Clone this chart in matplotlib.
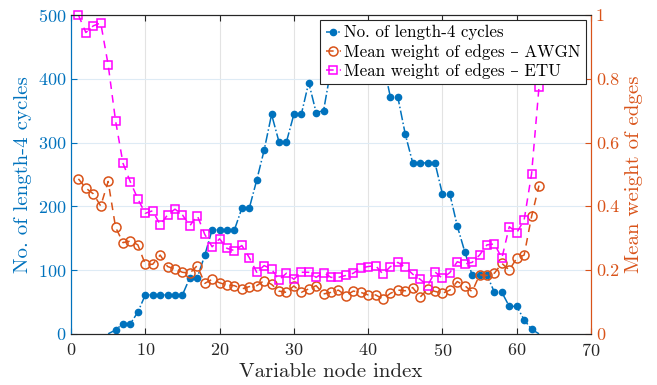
import matplotlib
matplotlib.use('Agg')
import matplotlib.pyplot as plt
import numpy as np

# data
x_blue = np.arange(5, 64)
cycles = [0, 6, 16, 16, 34, 61, 61, 61, 61, 61, 61, 88, 88, 123, 163, 163, 163, 163,
          197, 197, 241, 288, 344, 301, 301, 344, 344, 394, 347, 350, 416, 440, 460,
          470, 470, 455, 440, 426, 371, 371, 313, 268, 268, 268, 268, 219, 219, 169,
          129, 92, 92, 92, 65, 65, 43, 43, 22, 7, 0]

x_w = np.arange(1, 64)
w_awgn = [0.486, 0.457, 0.439, 0.401, 0.478, 0.334, 0.286, 0.291, 0.279, 0.218, 0.218,
          0.247, 0.211, 0.203, 0.193, 0.190, 0.214, 0.158, 0.171, 0.160, 0.153, 0.151,
          0.141, 0.148, 0.151, 0.167, 0.155, 0.134, 0.130, 0.150, 0.130, 0.141, 0.151,
          0.125, 0.130, 0.137, 0.120, 0.134, 0.130, 0.122, 0.122, 0.109, 0.127, 0.137,
          0.135, 0.145, 0.115, 0.140, 0.133, 0.127, 0.137, 0.164, 0.151, 0.132, 0.185,
          0.183, 0.190, 0.221, 0.200, 0.237, 0.247, 0.368, 0.465]
w_etu = [1.000, 0.945, 0.966, 0.975, 0.844, 0.668, 0.535, 0.476, 0.423, 0.378, 0.386,
         0.342, 0.373, 0.391, 0.373, 0.339, 0.371, 0.312, 0.273, 0.298, 0.268, 0.261,
         0.277, 0.239, 0.193, 0.214, 0.203, 0.169, 0.190, 0.171, 0.193, 0.193, 0.177,
         0.192, 0.177, 0.177, 0.183, 0.190, 0.206, 0.211, 0.214, 0.187, 0.211, 0.224,
         0.209, 0.187, 0.171, 0.151, 0.194, 0.174, 0.192, 0.226, 0.219, 0.224, 0.247,
         0.279, 0.282, 0.237, 0.336, 0.317, 0.357, 0.502, 0.774]

blue = '#0072BD'
orange = '#D95319'
magenta = '#FF00FF'
dark = '#262626'

plt.rcParams['font.family'] = ['cmr10', 'DejaVu Serif']
plt.rcParams['axes.formatter.use_mathtext'] = True
plt.rcParams['mathtext.fontset'] = 'cm'

fig = plt.figure(figsize=(6.57, 3.85), dpi=100)
ax = fig.add_axes([71/657, 1-333.8/385, 520/657, 318.8/385])
ax2 = ax.twinx()

l1, = ax.plot(x_blue, cycles, '-.', color=blue, lw=1.1, marker='o', ms=4.5,
              mfc=blue, mec=blue, markevery=list(range(1, len(x_blue)-1)))
l2, = ax2.plot(x_w, w_awgn, '--', color=orange, lw=1.1, marker='o', ms=6.5,
               mfc='none', mec=orange, mew=1.1, dashes=(5, 4))
l3, = ax2.plot(x_w, w_etu, '--', color=magenta, lw=1.1, marker='s', ms=5.5,
               mfc='none', mec=magenta, mew=1.1, dashes=(5, 4), clip_on=False)

ax.set_xlim(0, 70)
ax.set_ylim(0, 500)
ax2.set_ylim(0, 1)
ax.set_xticks(np.arange(0, 71, 10))
ax.set_yticks(np.arange(0, 501, 100))
ax2.set_yticks([0, 0.2, 0.4, 0.6, 0.8, 1])
ax2.set_yticklabels(['0', '0.2', '0.4', '0.6', '0.8', '1'])

ax.xaxis.grid(True, color='#e3e3e3', lw=0.8)
ax.yaxis.grid(True, color='#deebf5', lw=0.8)
ax.set_axisbelow(True)

for a in (ax, ax2):
    a.spines['top'].set_color(dark)
    a.spines['bottom'].set_color(dark)
    a.spines['left'].set_color(blue)
    a.spines['right'].set_color(orange)
    for s in a.spines.values():
        s.set_linewidth(0.8)

ax.tick_params(axis='x', direction='in', top=True, colors=dark, labelsize=13,
               length=4, pad=6)
ax.tick_params(axis='y', direction='in', colors=blue, labelsize=13, length=4)
ax2.tick_params(axis='y', direction='in', colors=orange, labelsize=13, length=4)

ax.set_xlabel('Variable node index', fontsize=15, color=dark, labelpad=3)
ax.set_ylabel('No. of length-4 cycles', fontsize=15, color=blue, labelpad=4)
ax2.set_ylabel('Mean weight of edges', fontsize=15, color=orange, labelpad=4)

leg = ax2.legend([l1, l2, l3],
                 ['No. of length-4 cycles', 'Mean weight of edges – AWGN',
                  'Mean weight of edges – ETU'],
                 loc='upper right', bbox_to_anchor=(0.99, 0.984), fontsize=12.2,
                 handlelength=0.9, handletextpad=0.2, borderpad=0.3,
                 labelspacing=0.2, fancybox=False, framealpha=1, borderaxespad=0)
leg.get_frame().set_edgecolor(dark)
leg.get_frame().set_linewidth(0.8)

fig.savefig('out.png', dpi=100)
